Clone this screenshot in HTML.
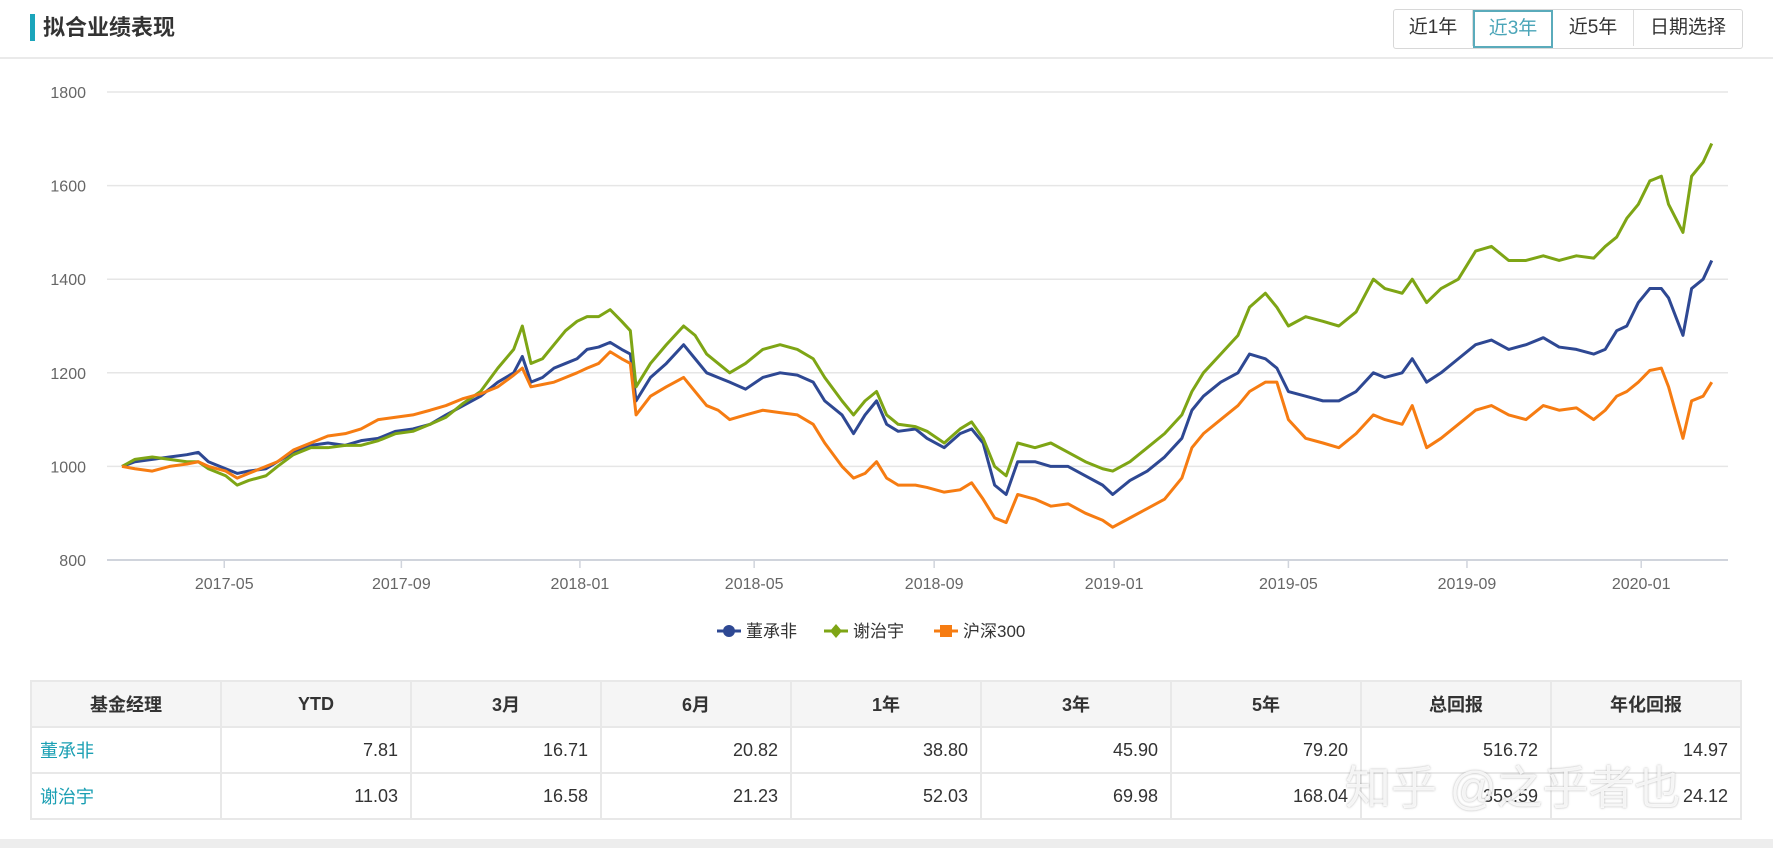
<!DOCTYPE html>
<html><head><meta charset="utf-8">
<style>
body{margin:0;width:1773px;height:848px;background:#fff;position:relative;overflow:hidden;font-family:"Liberation Sans","Noto Sans CJK SC",sans-serif;}
.title-bar{position:absolute;left:30px;top:14px;width:5px;height:27px;background:#1ba5bb;}
.title{position:absolute;left:43px;top:13px;font-size:22px;font-weight:bold;color:#333;line-height:30px;}
.sep{position:absolute;left:0;top:57px;width:1773px;height:2px;background:#eaeaea;}
.btns{position:absolute;left:1393px;top:9px;height:38px;display:flex;border:1px solid #d8d8d8;border-radius:3px;}
.btn{height:36px;line-height:36px;text-align:center;font-size:19px;color:#333;border-right:1px solid #ddd;}
.btn.on{color:#4aa5b8;border:2px solid #5aabbb;height:34px;line-height:34px;}
table{position:absolute;left:30px;top:680px;width:1712px;border-collapse:collapse;font-size:18px;table-layout:fixed;}
td,th{border:2px solid #e8e8e8;height:44px;padding:0 12px;}
th{background:#f5f5f5;color:#333;font-weight:bold;}
td{text-align:right;color:#333;}
td.name{text-align:left;color:#1a9fb3;padding-left:8px;}
.band{position:absolute;left:0;top:839px;width:1773px;height:9px;background:#ededed;}
.wm{position:absolute;left:1345px;top:752px;font-size:46px;color:rgba(255,255,255,0.85);text-shadow:0 0 2px rgba(120,120,120,0.6);}
</style></head><body>
<div class="title-bar"></div>
<div class="title">拟合业绩表现</div>
<div class="sep"></div>
<div class="btns">
<div class="btn" style="width:78px">近1年</div>
<div class="btn on" style="width:76px">近3年</div>
<div class="btn" style="width:80px">近5年</div>
<div class="btn" style="width:108px;border-right:none">日期选择</div>
</div>
<svg id="chart" width="1773" height="680" style="position:absolute;left:0;top:0"></svg>
<table>
<tr><th>基金经理</th><th>YTD</th><th>3月</th><th>6月</th><th>1年</th><th>3年</th><th>5年</th><th>总回报</th><th>年化回报</th></tr>
<tr><td class="name">董承非</td><td>7.81</td><td>16.71</td><td>20.82</td><td>38.80</td><td>45.90</td><td>79.20</td><td>516.72</td><td>14.97</td></tr>
<tr><td class="name">谢治宇</td><td>11.03</td><td>16.58</td><td>21.23</td><td>52.03</td><td>69.98</td><td>168.04</td><td>359.59</td><td>24.12</td></tr>
</table>
<div class="wm">知乎 @之乎者也</div>
<div class="band"></div>
<script>
const days=[0,9,21,33,45,53,60,72,80,88,100,108,119,131,143,155,166,178,190,202,214,225,237,249,261,272,278,284,292,300,308,316,323,331,339,347,353,357,367,378,390,398,406,414,422,433,445,457,469,480,488,500,508,516,524,531,539,551,559,571,582,590,598,606,614,622,634,645,657,669,681,688,700,712,724,736,743,751,763,775,783,794,802,810,822,834,845,857,869,877,889,896,906,916,928,940,951,963,975,987,998,1010,1022,1030,1038,1045,1053,1061,1069,1074,1084,1090,1098,1104];
const dong=[1000,1010,1015,1020,1025,1030,1010,995,985,990,995,1010,1030,1045,1050,1045,1055,1060,1075,1080,1090,1110,1130,1150,1180,1200,1235,1180,1190,1210,1220,1230,1250,1255,1265,1250,1240,1140,1190,1220,1260,1230,1200,1190,1180,1165,1190,1200,1195,1180,1140,1110,1070,1110,1140,1090,1075,1080,1060,1040,1070,1080,1050,960,940,1010,1010,1000,1000,980,960,940,970,990,1020,1060,1120,1150,1180,1200,1240,1230,1210,1160,1150,1140,1140,1160,1200,1190,1200,1230,1180,1200,1230,1260,1270,1250,1260,1275,1255,1250,1240,1250,1290,1300,1350,1380,1380,1360,1280,1380,1400,1440];
const xie=[1000,1015,1020,1015,1010,1010,995,980,960,970,980,1000,1025,1040,1040,1045,1045,1055,1070,1075,1090,1105,1135,1160,1210,1250,1300,1220,1230,1260,1290,1310,1320,1320,1335,1310,1290,1170,1220,1260,1300,1280,1240,1220,1200,1220,1250,1260,1250,1230,1190,1140,1110,1140,1160,1110,1090,1085,1075,1050,1080,1095,1060,1000,980,1050,1040,1050,1030,1010,995,990,1010,1040,1070,1110,1160,1200,1240,1280,1340,1370,1340,1300,1320,1310,1300,1330,1400,1380,1370,1400,1350,1380,1400,1460,1470,1440,1440,1450,1440,1450,1445,1470,1490,1530,1560,1610,1620,1560,1500,1620,1650,1690];
const hs300=[1000,995,990,1000,1005,1010,1000,990,975,985,1000,1010,1035,1050,1065,1070,1080,1100,1105,1110,1120,1130,1145,1155,1170,1195,1210,1170,1175,1180,1190,1200,1210,1220,1245,1230,1220,1110,1150,1170,1190,1160,1130,1120,1100,1110,1120,1115,1110,1090,1050,1000,975,985,1010,975,960,960,955,945,950,965,930,890,880,940,930,915,920,900,885,870,890,910,930,975,1040,1070,1100,1130,1160,1180,1180,1100,1060,1050,1040,1070,1110,1100,1090,1130,1040,1060,1090,1120,1130,1110,1100,1130,1120,1125,1100,1120,1150,1160,1180,1205,1210,1170,1060,1140,1150,1180];
const yTicks=[800,1000,1200,1400,1600,1800];
const xTickDays=[71,194,318,439,564,689,810,934,1055];
const xTickLabels=["2017-05","2017-09","2018-01","2018-05","2018-09","2019-01","2019-05","2019-09","2020-01"];
const seriesNames=["董承非","谢治宇","沪深300"];
const colors=["#2e4893","#7ea515","#f67c12"];

const NS="http://www.w3.org/2000/svg";
const svg=document.getElementById('chart');
const X0=107,X1=1728,Y0=560;
function sx(d){return 122+d*1.44;}
function sy(v){return Y0-(v-800)*0.468;}
function mk(tag,attrs){const e=document.createElementNS(NS,tag);for(const k in attrs)e.setAttribute(k,attrs[k]);svg.appendChild(e);return e;}
yTicks.forEach(v=>{
  const l=mk('line',{x1:X0,x2:X1,y1:sy(v),y2:sy(v),stroke:v===800?'#d0d4dc':'#e6e6e6','stroke-width':v===800?2:1.5});
  
  
  const t=mk('text',{x:86,y:sy(v)+6,'text-anchor':'end','font-size':16,fill:'#666','font-family':'Liberation Sans, sans-serif'});
  t.textContent=v;
  
  
});
xTickDays.forEach((d,i)=>{
  const l=mk('line',{x1:sx(d),x2:sx(d),y1:Y0,y2:Y0+8,stroke:'#d0d4dc','stroke-width':1.5});
  
  
  const t=mk('text',{x:sx(d),y:589,'text-anchor':'middle','font-size':16,fill:'#666','font-family':'Liberation Sans, sans-serif'});
  t.textContent=xTickLabels[i];
  
  
});
[dong,xie,hs300].forEach((s,i)=>{
  const p=mk('polyline',{points:s.map((v,j)=>sx(days[j])+','+sy(v)).join(' '),fill:'none',stroke:colors[i],'stroke-width':3,'stroke-linejoin':'round'});
  
  
});
const legX=[729,836,946];
seriesNames.forEach((n,i)=>{
  const y=631,x=legX[i];
  const l=mk('line',{x1:x-12,x2:x+12,y1:y,y2:y,stroke:colors[i],'stroke-width':3});
  
  
  let m;
  if(i===0)m=mk('circle',{cx:x,cy:y,r:6,fill:colors[i]});
  else if(i===1)m=mk('polygon',{points:`${x},${y-7} ${x+6},${y} ${x},${y+7} ${x-6},${y}`,fill:colors[i]});
  else m=mk('rect',{x:x-6,y:y-6,width:12,height:12,fill:colors[i]});
  
  
  const t=mk('text',{x:x+17,y:y+6,'font-size':17,fill:'#333','font-family':'Liberation Sans, Noto Sans CJK SC, sans-serif'});
  t.textContent=n;
  
  
});
</script>
</body></html>
